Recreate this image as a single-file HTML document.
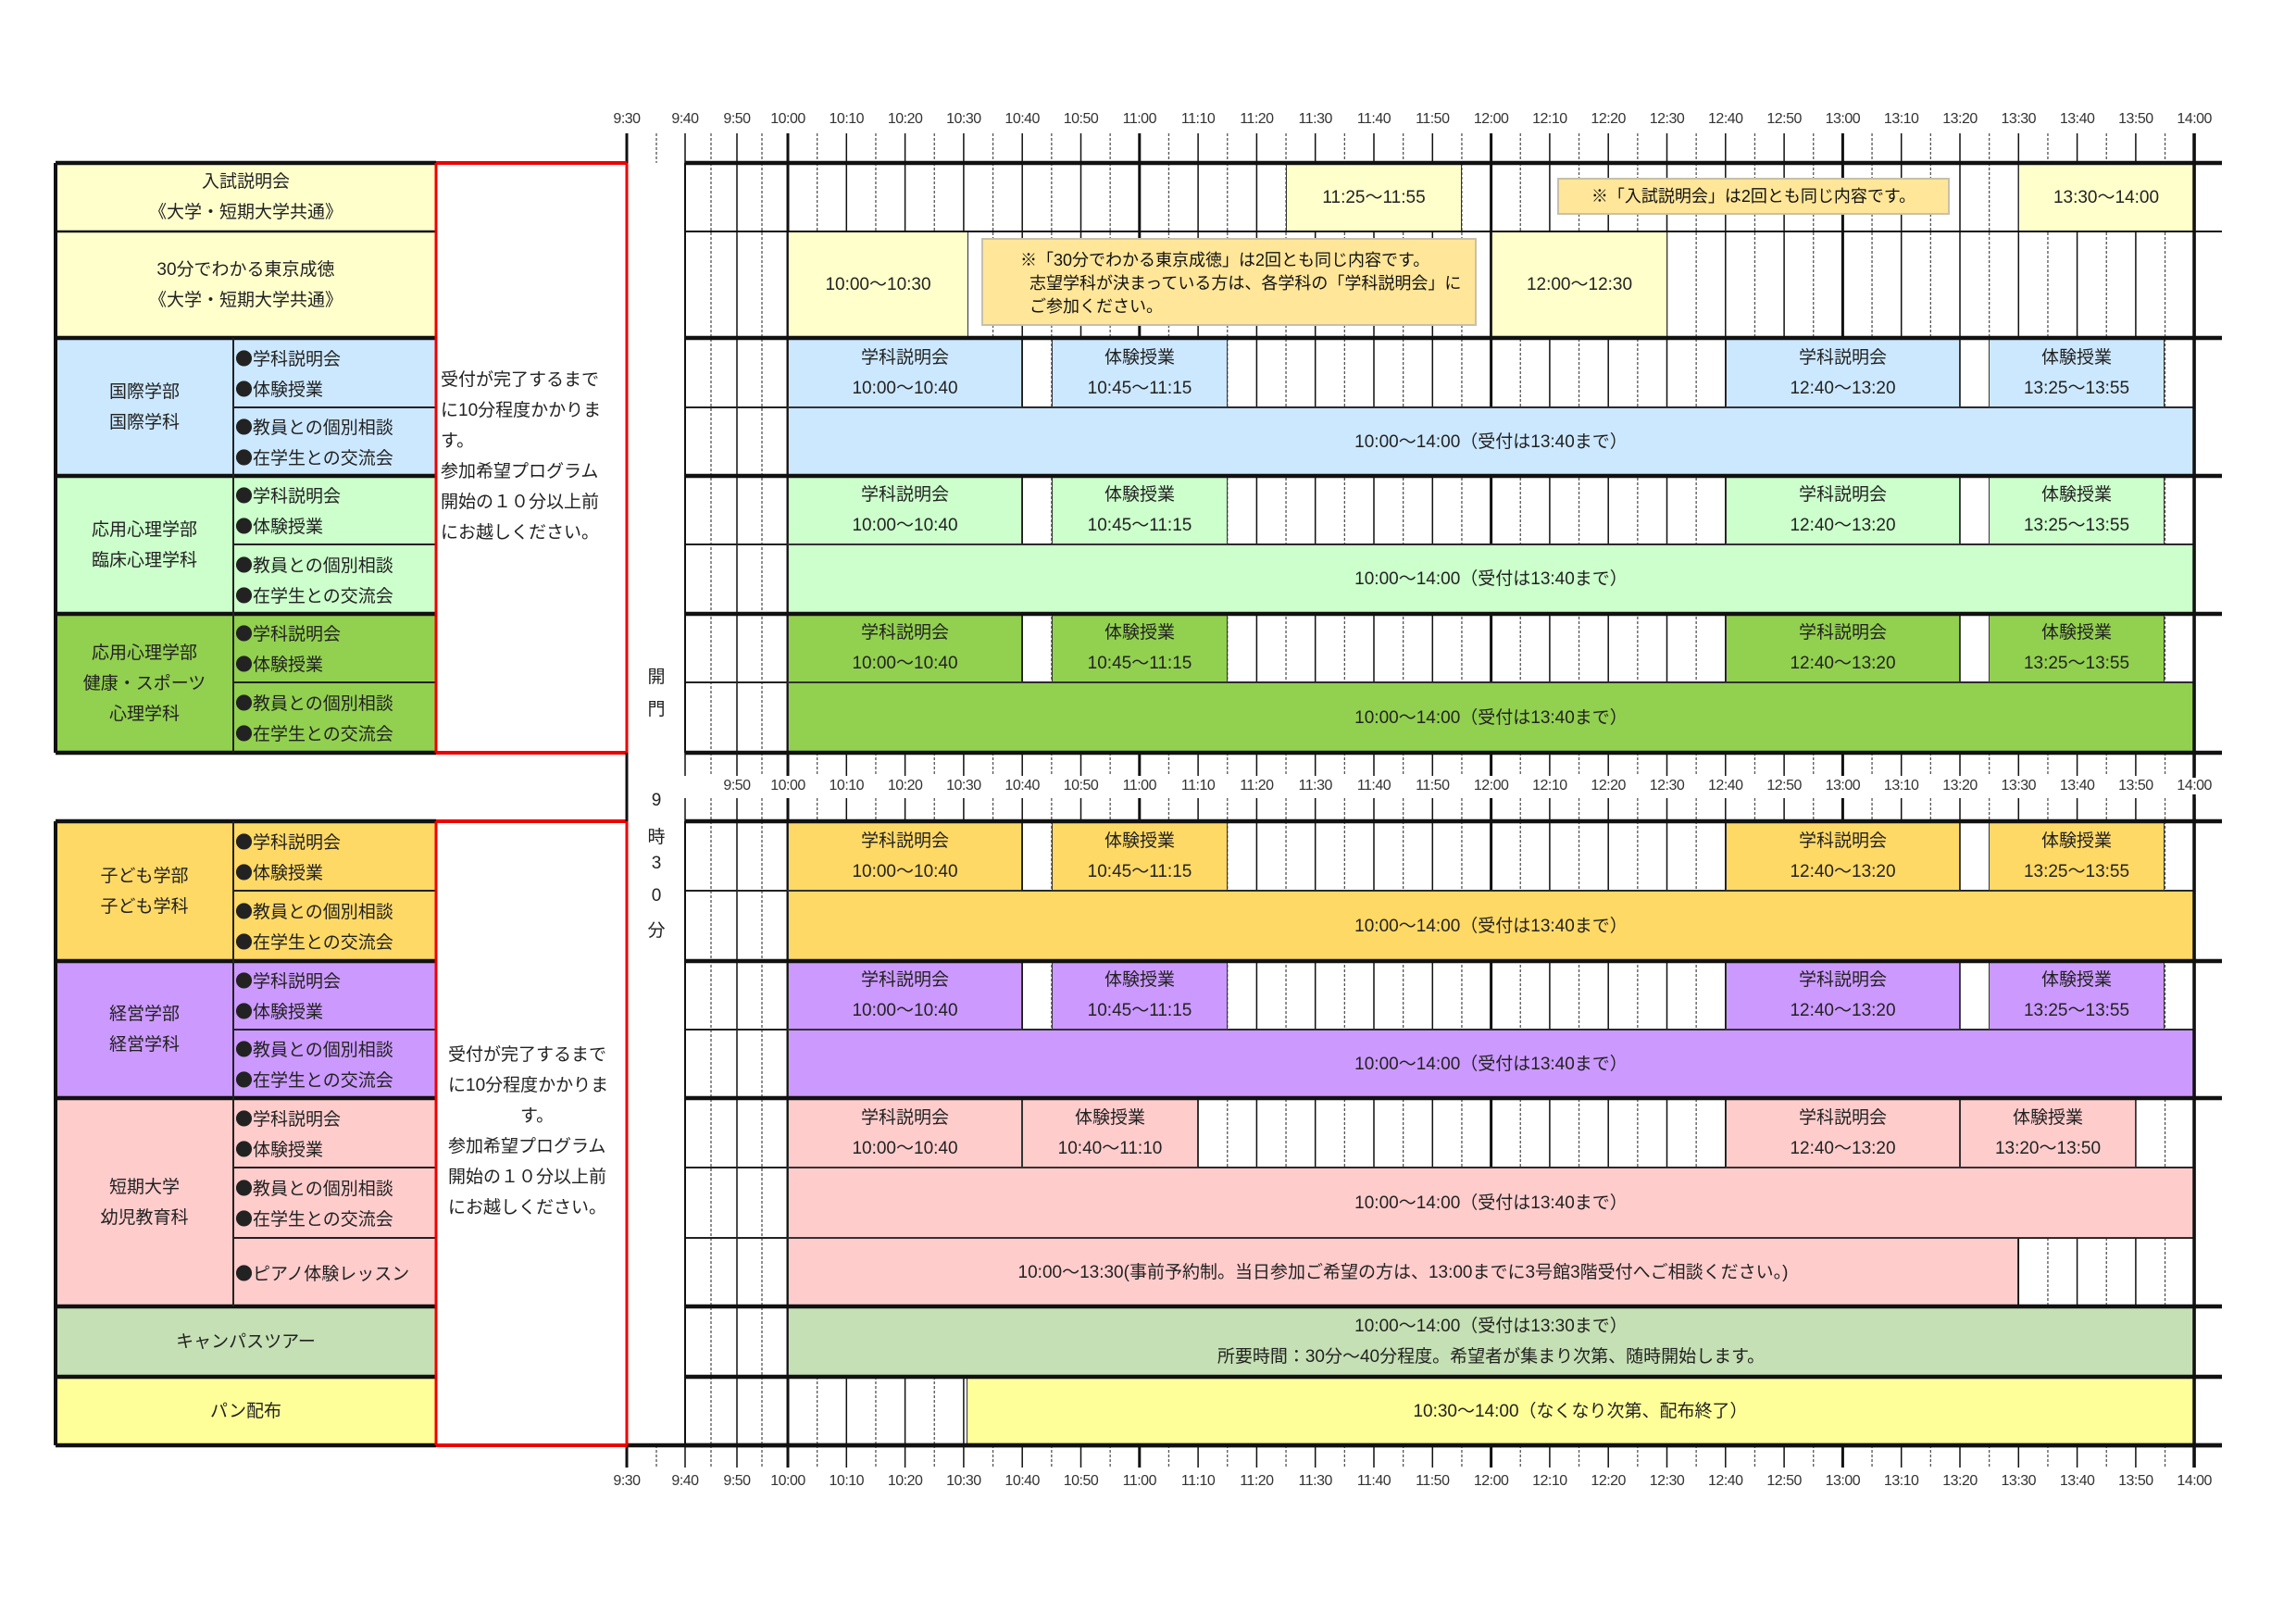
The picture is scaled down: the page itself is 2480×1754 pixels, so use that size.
<!DOCTYPE html>
<html><head><meta charset="utf-8">
<style>
*{margin:0;padding:0;box-sizing:border-box}
body{width:2480px;height:1754px;background:#fff;position:relative;overflow:hidden;font-family:"Liberation Sans","Noto Sans CJK JP",sans-serif;color:#222;font-size:19px}
.a{position:absolute}
.c{position:absolute;display:flex;flex-direction:column;align-items:center;justify-content:center;text-align:center;line-height:33px;border:1.5px solid #333;z-index:3}
.it{position:absolute;display:flex;flex-direction:column;justify-content:center;line-height:33px;padding-left:2px;z-index:3;font-family:"Noto Sans CJK JP","Liberation Sans",sans-serif}
.tl{position:absolute;font-size:16px;transform:translateX(-50%);white-space:nowrap;color:#333;letter-spacing:-0.5px}
#svg{position:absolute;left:0;top:0;z-index:2}
#top{position:absolute;left:0;top:0;z-index:5;pointer-events:none}
.note{position:absolute;background:#FFE699;border:2px solid #c8c0a8;z-index:4;font-size:18px;line-height:25px;color:#111}
.vt{position:absolute;left:709px;transform:translateX(-50%);font-size:19px;z-index:3}
</style></head><body>
<svg id="svg" width="2480" height="1754"></svg>

<div class="c" style="left:60px;top:176px;width:411px;height:74px;background:#FFFFCC;border-width:0">入試説明会<br>《大学・短期大学共通》</div>
<div class="c" style="left:60px;top:250px;width:411px;height:115px;background:#FFFFCC;border-width:0">30分でわかる東京成徳<br>《大学・短期大学共通》</div>

<div class="c" style="left:60px;top:365px;width:192px;height:149px;background:#CCE8FF;border-width:0">国際学部<br>国際学科</div>
<div class="it" style="left:252px;top:365px;width:219px;height:75px;background:#CCE8FF">●学科説明会<br>●体験授業</div>
<div class="it" style="left:252px;top:440px;width:219px;height:74px;background:#CCE8FF">●教員との個別相談<br>●在学生との交流会</div>

<div class="c" style="left:60px;top:514px;width:192px;height:149px;background:#CCFFCC;border-width:0">応用心理学部<br>臨床心理学科</div>
<div class="it" style="left:252px;top:514px;width:219px;height:74px;background:#CCFFCC">●学科説明会<br>●体験授業</div>
<div class="it" style="left:252px;top:588px;width:219px;height:75px;background:#CCFFCC">●教員との個別相談<br>●在学生との交流会</div>

<div class="c" style="left:60px;top:663px;width:192px;height:150px;background:#92D050;border-width:0">応用心理学部<br>健康・スポーツ<br>心理学科</div>
<div class="it" style="left:252px;top:663px;width:219px;height:74px;background:#92D050">●学科説明会<br>●体験授業</div>
<div class="it" style="left:252px;top:737px;width:219px;height:76px;background:#92D050">●教員との個別相談<br>●在学生との交流会</div>

<div class="c" style="left:60px;top:887px;width:192px;height:151px;background:#FFD966;border-width:0">子ども学部<br>子ども学科</div>
<div class="it" style="left:252px;top:887px;width:219px;height:75px;background:#FFD966">●学科説明会<br>●体験授業</div>
<div class="it" style="left:252px;top:962px;width:219px;height:76px;background:#FFD966">●教員との個別相談<br>●在学生との交流会</div>

<div class="c" style="left:60px;top:1038px;width:192px;height:148px;background:#CC99FF;border-width:0">経営学部<br>経営学科</div>
<div class="it" style="left:252px;top:1038px;width:219px;height:74px;background:#CC99FF">●学科説明会<br>●体験授業</div>
<div class="it" style="left:252px;top:1112px;width:219px;height:74px;background:#CC99FF">●教員との個別相談<br>●在学生との交流会</div>

<div class="c" style="left:60px;top:1186px;width:192px;height:225px;background:#FFCCCC;border-width:0">短期大学<br>幼児教育科</div>
<div class="it" style="left:252px;top:1186px;width:219px;height:75px;background:#FFCCCC">●学科説明会<br>●体験授業</div>
<div class="it" style="left:252px;top:1261px;width:219px;height:76px;background:#FFCCCC">●教員との個別相談<br>●在学生との交流会</div>
<div class="it" style="left:252px;top:1337px;width:219px;height:74px;background:#FFCCCC">●ピアノ体験レッスン</div>

<div class="c" style="left:60px;top:1411px;width:411px;height:76px;background:#C5E0B4;border-width:0">キャンパスツアー</div>
<div class="c" style="left:60px;top:1487px;width:411px;height:74px;background:#FFFF99;border-width:0">パン配布</div>

<div class="a" style="left:476px;top:394px;line-height:33px;font-size:19px;z-index:3">受付が完了するまで<br>に10分程度かかりま<br>す。<br>参加希望プログラム<br>開始の１０分以上前<br>にお越しください。</div>
<div class="a" style="left:484px;top:1123px;line-height:33px;font-size:19px;z-index:3">受付が完了するまで<br>に10分程度かかりま<br><span style="padding-left:78px">す。</span><br>参加希望プログラム<br>開始の１０分以上前<br>にお越しください。</div>

<div class="vt" style="top:716px">開</div>
<div class="vt" style="top:751px">門</div>
<div class="vt" style="top:854px">9</div>
<div class="vt" style="top:889px">時</div>
<div class="vt" style="top:922px">3</div>
<div class="vt" style="top:957px">0</div>
<div class="vt" style="top:990px">分</div>

<div class="c" style="left:1389px;top:176px;width:190px;height:74px;background:#FFFFCC">11:25～11:55</div>
<div class="c" style="left:2180px;top:176px;width:190px;height:74px;background:#FFFFCC">13:30～14:00</div>
<div class="c" style="left:851px;top:250px;width:195px;height:115px;background:#FFFFCC">10:00～10:30</div>
<div class="c" style="left:1611px;top:250px;width:190px;height:115px;background:#FFFFCC">12:00～12:30</div>
<div class="note" style="left:1682px;top:192px;width:424px;height:40px;display:flex;align-items:center;justify-content:center">※「入試説明会」は2回とも同じ内容です。</div>
<div class="note" style="left:1060px;top:257px;width:535px;height:95px;padding:10px 0 0 40px">※「30分でわかる東京成徳」は2回とも同じ内容です。<br>&nbsp;&nbsp;志望学科が決まっている方は、各学科の「学科説明会」に<br>&nbsp;&nbsp;ご参加ください。</div>

<div class="c" style="left:851px;top:365px;width:253px;height:75px;background:#CCE8FF">学科説明会<br>10:00～10:40</div>
<div class="c" style="left:1136px;top:365px;width:190px;height:75px;background:#CCE8FF">体験授業<br>10:45～11:15</div>
<div class="c" style="left:1864px;top:365px;width:253px;height:75px;background:#CCE8FF">学科説明会<br>12:40～13:20</div>
<div class="c" style="left:2148px;top:365px;width:190px;height:75px;background:#CCE8FF">体験授業<br>13:25～13:55</div>
<div class="c" style="left:851px;top:440px;width:1519px;height:74px;background:#CCE8FF">10:00～14:00（受付は13:40まで）</div>
<div class="c" style="left:851px;top:514px;width:253px;height:74px;background:#CCFFCC">学科説明会<br>10:00～10:40</div>
<div class="c" style="left:1136px;top:514px;width:190px;height:74px;background:#CCFFCC">体験授業<br>10:45～11:15</div>
<div class="c" style="left:1864px;top:514px;width:253px;height:74px;background:#CCFFCC">学科説明会<br>12:40～13:20</div>
<div class="c" style="left:2148px;top:514px;width:190px;height:74px;background:#CCFFCC">体験授業<br>13:25～13:55</div>
<div class="c" style="left:851px;top:588px;width:1519px;height:75px;background:#CCFFCC">10:00～14:00（受付は13:40まで）</div>
<div class="c" style="left:851px;top:663px;width:253px;height:74px;background:#92D050">学科説明会<br>10:00～10:40</div>
<div class="c" style="left:1136px;top:663px;width:190px;height:74px;background:#92D050">体験授業<br>10:45～11:15</div>
<div class="c" style="left:1864px;top:663px;width:253px;height:74px;background:#92D050">学科説明会<br>12:40～13:20</div>
<div class="c" style="left:2148px;top:663px;width:190px;height:74px;background:#92D050">体験授業<br>13:25～13:55</div>
<div class="c" style="left:851px;top:737px;width:1519px;height:76px;background:#92D050">10:00～14:00（受付は13:40まで）</div>
<div class="c" style="left:851px;top:887px;width:253px;height:75px;background:#FFD966">学科説明会<br>10:00～10:40</div>
<div class="c" style="left:1136px;top:887px;width:190px;height:75px;background:#FFD966">体験授業<br>10:45～11:15</div>
<div class="c" style="left:1864px;top:887px;width:253px;height:75px;background:#FFD966">学科説明会<br>12:40～13:20</div>
<div class="c" style="left:2148px;top:887px;width:190px;height:75px;background:#FFD966">体験授業<br>13:25～13:55</div>
<div class="c" style="left:851px;top:962px;width:1519px;height:76px;background:#FFD966">10:00～14:00（受付は13:40まで）</div>
<div class="c" style="left:851px;top:1038px;width:253px;height:74px;background:#CC99FF">学科説明会<br>10:00～10:40</div>
<div class="c" style="left:1136px;top:1038px;width:190px;height:74px;background:#CC99FF">体験授業<br>10:45～11:15</div>
<div class="c" style="left:1864px;top:1038px;width:253px;height:74px;background:#CC99FF">学科説明会<br>12:40～13:20</div>
<div class="c" style="left:2148px;top:1038px;width:190px;height:74px;background:#CC99FF">体験授業<br>13:25～13:55</div>
<div class="c" style="left:851px;top:1112px;width:1519px;height:74px;background:#CC99FF">10:00～14:00（受付は13:40まで）</div>
<div class="c" style="left:851px;top:1186px;width:253px;height:75px;background:#FFCCCC">学科説明会<br>10:00～10:40</div>
<div class="c" style="left:1104px;top:1186px;width:190px;height:75px;background:#FFCCCC">体験授業<br>10:40～11:10</div>
<div class="c" style="left:1864px;top:1186px;width:253px;height:75px;background:#FFCCCC">学科説明会<br>12:40～13:20</div>
<div class="c" style="left:2117px;top:1186px;width:190px;height:75px;background:#FFCCCC">体験授業<br>13:20～13:50</div>
<div class="c" style="left:851px;top:1261px;width:1519px;height:76px;background:#FFCCCC">10:00～14:00（受付は13:40まで）</div>
<div class="c" style="left:851px;top:1337px;width:1329px;height:74px;background:#FFCCCC">10:00～13:30(事前予約制。当日参加ご希望の方は、13:00までに3号館3階受付へご相談ください。)</div>
<div class="c" style="left:851px;top:1411px;width:1519px;height:76px;background:#C5E0B4">10:00～14:00（受付は13:30まで）<br>所要時間：30分～40分程度。希望者が集まり次第、随時開始します。</div>
<div class="c" style="left:1044px;top:1487px;width:1326px;height:74px;background:#FFFF99">10:30～14:00（なくなり次第、配布終了）</div>

<div id="L1"><div class="tl">9:30</div><div class="tl">9:40</div><div class="tl">9:50</div><div class="tl">10:00</div><div class="tl">10:10</div><div class="tl">10:20</div><div class="tl">10:30</div><div class="tl">10:40</div><div class="tl">10:50</div><div class="tl">11:00</div><div class="tl">11:10</div><div class="tl">11:20</div><div class="tl">11:30</div><div class="tl">11:40</div><div class="tl">11:50</div><div class="tl">12:00</div><div class="tl">12:10</div><div class="tl">12:20</div><div class="tl">12:30</div><div class="tl">12:40</div><div class="tl">12:50</div><div class="tl">13:00</div><div class="tl">13:10</div><div class="tl">13:20</div><div class="tl">13:30</div><div class="tl">13:40</div><div class="tl">13:50</div><div class="tl">14:00</div></div>
<div id="L2"><div class="tl">9:50</div><div class="tl">10:00</div><div class="tl">10:10</div><div class="tl">10:20</div><div class="tl">10:30</div><div class="tl">10:40</div><div class="tl">10:50</div><div class="tl">11:00</div><div class="tl">11:10</div><div class="tl">11:20</div><div class="tl">11:30</div><div class="tl">11:40</div><div class="tl">11:50</div><div class="tl">12:00</div><div class="tl">12:10</div><div class="tl">12:20</div><div class="tl">12:30</div><div class="tl">12:40</div><div class="tl">12:50</div><div class="tl">13:00</div><div class="tl">13:10</div><div class="tl">13:20</div><div class="tl">13:30</div><div class="tl">13:40</div><div class="tl">13:50</div><div class="tl">14:00</div></div>
<div id="L3"><div class="tl">9:30</div><div class="tl">9:40</div><div class="tl">9:50</div><div class="tl">10:00</div><div class="tl">10:10</div><div class="tl">10:20</div><div class="tl">10:30</div><div class="tl">10:40</div><div class="tl">10:50</div><div class="tl">11:00</div><div class="tl">11:10</div><div class="tl">11:20</div><div class="tl">11:30</div><div class="tl">11:40</div><div class="tl">11:50</div><div class="tl">12:00</div><div class="tl">12:10</div><div class="tl">12:20</div><div class="tl">12:30</div><div class="tl">12:40</div><div class="tl">12:50</div><div class="tl">13:00</div><div class="tl">13:10</div><div class="tl">13:20</div><div class="tl">13:30</div><div class="tl">13:40</div><div class="tl">13:50</div><div class="tl">14:00</div></div>

<svg id="top" width="2480" height="1754"></svg>

<script>
function X(m){
  var pre={0:677,5:709,10:740,15:768,20:796,25:823};
  if(m<30) return pre[m];
  return 851+(m-30)/5*31.65;
}
var NS="http://www.w3.org/2000/svg";
function ln(svg,x1,y1,x2,y2,w,c,dash){
  var l=document.createElementNS(NS,"line");
  l.setAttribute("x1",x1);l.setAttribute("y1",y1);l.setAttribute("x2",x2);l.setAttribute("y2",y2);
  l.setAttribute("stroke",c||"#111");l.setAttribute("stroke-width",w);
  if(dash) l.setAttribute("stroke-dasharray",dash);
  svg.appendChild(l);
}
var S=document.getElementById("svg"),T=document.getElementById("top");
var segs=[[144,176,0],[176,813,10],[813,838,10],[862,887,10],[887,1561,10],[1561,1585,0]];
segs.forEach(function(s){
  for(var m=s[2];m<=270;m+=5){
    var x=X(m),hour=(m%60==30);
    if(m%10==5){ln(S,x,s[0],x,s[1],1.3,"#555","3,2");}
    else{ln(S,x,s[0],x,s[1],hour?3:1.5,"#111");}
  }
});
ln(S,677,144,677,176,3,"#111");ln(S,677,1561,677,1585,3,"#111");
var thick=[176,250,365,514,663,813,887,1038,1186,1411,1487,1561];
thick.forEach(function(y){ln(T,740,y,2400,y,y==250?2:4.5,"#111");});
[440,588,737,962,1112,1261,1337].forEach(function(y){ln(S,740,y,2370,y,2,"#222");});
ln(T,60,176,471,176,4.5,"#111");
[365,514,663,813,887,1038,1186,1411,1487,1561].forEach(function(y){ln(T,60,y,471,y,4.5,"#111");});
ln(T,60,250,471,250,2.5,"#111");
[440,588,737,962,1112,1261,1337].forEach(function(y){ln(T,252,y,471,y,2,"#222");});
ln(T,60,176,60,813,4,"#111");ln(T,60,887,60,1561,4,"#111");
ln(T,252,365,252,813,2,"#222");ln(T,252,887,252,1411,2,"#222");
ln(T,740,176,740,813,2,"#111");ln(T,740,887,740,1561,2,"#111");
ln(T,677,1561,2400,1561,4.5,"#111");
ln(T,2370,144,2370,1585,3.5,"#111");
ln(T,471,176,677,176,4,"#e00");ln(T,471,813,677,813,4,"#e00");
ln(T,471,887,677,887,4,"#e00");ln(T,471,1561,677,1561,4,"#e00");
ln(T,471,176,471,813,3,"#e00");ln(T,471,887,471,1561,3,"#e00");
ln(T,677,176,677,813,3,"#e00");ln(T,677,813,677,887,3,"#111");ln(T,677,887,677,1561,3,"#e00");
function place(id,start,y,bg){
  var k=document.getElementById(id).children;
  for(var i=0;i<k.length;i++){
    var m=start[i];k[i].style.left=X(m)+"px";k[i].style.top=y+"px";
    if(bg){k[i].style.background="#fff";k[i].style.zIndex=6;k[i].style.padding="0 2px";}
  }
}
var a=[0,10,20];for(var m=30;m<=270;m+=10)a.push(m);
place("L1",a,120,false);
place("L2",a.slice(2),840,true);
place("L3",a,1591,false);
</script>
</body></html>
